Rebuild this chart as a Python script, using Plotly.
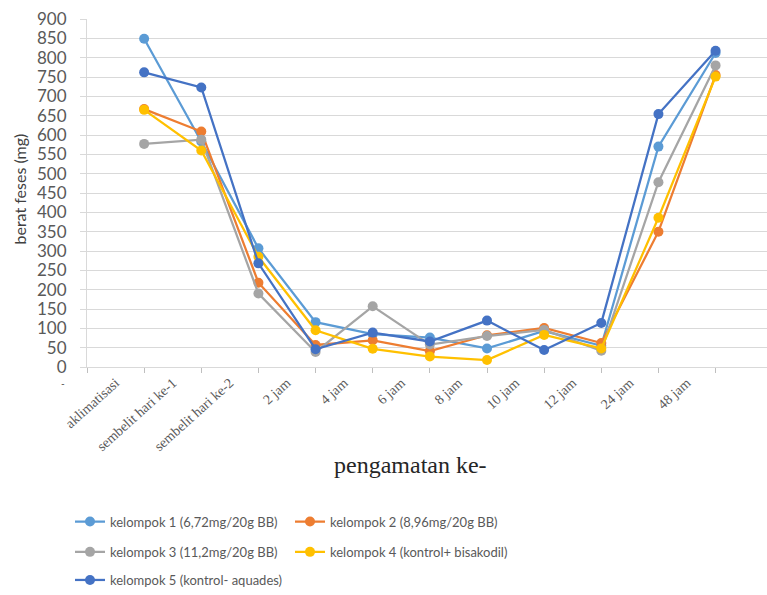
import plotly.graph_objects as go

# observation points (x-axis categories)
categories = ["aklimatisasi", "sembelit hari ke-1", "sembelit hari ke-2", "2 jam", "4 jam",
              "6 jam", "8 jam", "10 jam", "12 jam", "24 jam", "48 jam"]

# faeces weight (mg) per group
kelompok_1 = [849, 583, 307, 116, 85, 76, 48, 93, 55, 570, 812]
kelompok_2 = [667, 609, 218, 57, 69, 41, 82, 101, 62, 350, 755]
kelompok_3 = [577, 588, 190, 39, 157, 58, 80, 96, 42, 478, 780]
kelompok_4 = [665, 560, 285, 95, 47, 27, 18, 83, 48, 386, 751]
kelompok_5 = [762, 723, 268, 46, 89, 66, 120, 44, 114, 654, 818]

series_names = ["kelompok 1 (6,72mg/20g BB)", "kelompok 2 (8,96mg/20g BB)",
                "kelompok 3 (11,2mg/20g BB)", "kelompok 4 (kontrol+ bisakodil)",
                "kelompok 5 (kontrol- aquades)"]
series_values = [kelompok_1, kelompok_2, kelompok_3, kelompok_4, kelompok_5]
colors = ["#5B9BD5", "#ED7D31", "#A5A5A5", "#FFC000", "#4472C4"]
legend_ids = ["legend", "legend", "legend2", "legend2", "legend3"]

y_ticks = list(range(0, 901, 50))

# points sit on the category boundaries, labels sit between them
point_x = [i + 1 for i in range(len(categories))]
label_x = [i + 0.5 for i in range(len(categories))]

fig = go.Figure()
for name, vals, col, lg in zip(series_names, series_values, colors, legend_ids):
    fig.add_trace(go.Scatter(
        x=point_x, y=vals, name=name, mode="lines+markers",
        line=dict(color=col, width=2.25),
        marker=dict(color=col, size=10),
        legend=lg,
    ))

# invisible trace to carry the category label axis
fig.add_trace(go.Scatter(x=label_x, y=[None] * len(label_x), xaxis="x2",
                         showlegend=False, hoverinfo="skip"))

xr = [0, 11.9]
legend_common = dict(orientation="h", entrywidth=175, xanchor="left", yanchor="middle",
                     font=dict(family="Lato", size=13, color="#595959"),
                     bgcolor="rgba(0,0,0,0)", tracegroupgap=0, itemwidth=30)

fig.update_layout(
    width=767, height=595,
    margin=dict(l=87, r=0, t=19, b=227),
    plot_bgcolor="white", paper_bgcolor="white",
    xaxis=dict(range=xr, tickvals=list(range(0, 12)), showticklabels=False,
               ticks="outside", ticklen=5, tickcolor="#BFBFBF",
               showgrid=False, showline=True, linecolor="#D9D9D9", linewidth=1,
               zeroline=False),
    xaxis2=dict(range=xr, overlaying="x", anchor="y", side="bottom",
                tickvals=label_x, ticktext=categories, tickangle=-42, ticks="",
                showgrid=False, showline=False, zeroline=False, ticklabelstandoff=4,
                tickfont=dict(family="Liberation Serif", size=14, color="#595959")),
    yaxis=dict(range=[0, 900], tickvals=y_ticks, showgrid=True, gridcolor="#D9D9D9",
               gridwidth=1, showline=True, linecolor="#D9D9D9", zeroline=False,
               ticks="outside", ticklen=6, tickcolor="#D9D9D9", ticklabelstandoff=10,
               tickfont=dict(family="Lato", size=17, color="#595959")),
    legend=dict(x=-0.025, y=-0.44, **legend_common),
    legend2=dict(x=-0.025, y=-0.527, **legend_common),
    legend3=dict(x=-0.025, y=-0.613, **legend_common),
    annotations=[
        dict(text="berat feses (mg)", x=0, xref="paper", xshift=-67, xanchor="center",
             y=0.51, yref="paper", yanchor="middle", textangle=-90, showarrow=False,
             font=dict(family="Lato", size=16, color="#404040")),
        dict(text="pengamatan ke-", x=0.475, xref="paper", y=-0.283, yref="paper",
             showarrow=False, xanchor="center", yanchor="middle",
             font=dict(family="Liberation Serif", size=24, color="#262626")),
        dict(text="-", x=-0.036, xref="paper", y=-0.047, yref="paper",
             showarrow=False, xanchor="center", yanchor="middle",
             font=dict(family="Lato", size=10, color="#404040")),
    ],
)

fig.write_html("out.html")
